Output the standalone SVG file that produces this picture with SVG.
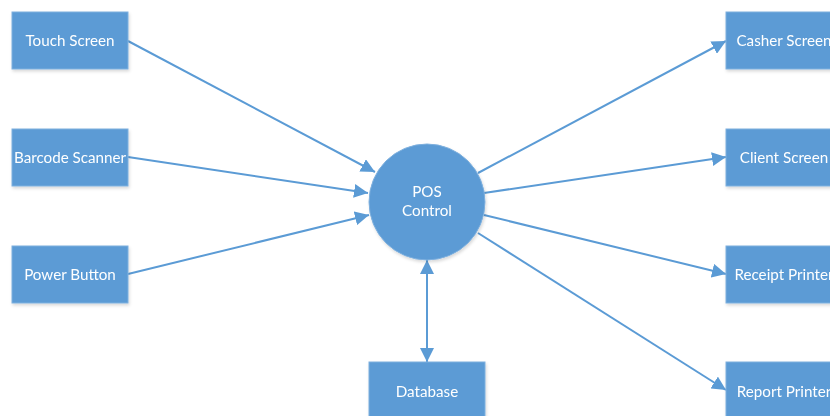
<svg xmlns="http://www.w3.org/2000/svg" width="830" height="416" viewBox="0 0 830 416">
<defs>
<style>
.box{fill:#5B9BD5;stroke:#7FB0DE;stroke-width:1}
.t{font-family:Lato,"Open Sans","Liberation Sans",sans-serif;font-size:15.2px;fill:#ffffff;text-anchor:middle}
.c{stroke:#5B9BD5;stroke-width:2;fill:none}
</style>
<marker id="ahb" viewBox="0 0 10 10" refX="10" refY="5" markerWidth="14" markerHeight="14" markerUnits="userSpaceOnUse" orient="auto-start-reverse">
<path d="M0,0 L10,5 L0,10 z" fill="#5B9BD5"/>
</marker>
<filter id="sh" x="-20%" y="-20%" width="140%" height="140%">
<feDropShadow dx="1" dy="2" stdDeviation="1.5" flood-color="#000" flood-opacity="0.15"/>
</filter>
</defs>
<rect width="830" height="416" fill="#ffffff"/>
<g id="connectors">
<line class="c" x1="128" y1="41" x2="375" y2="172" marker-end="url(#ahb)"/>
<line class="c" x1="128" y1="157" x2="368" y2="193" marker-end="url(#ahb)"/>
<line class="c" x1="128" y1="274" x2="369" y2="215" marker-end="url(#ahb)"/>
<line class="c" x1="478" y1="173" x2="726" y2="41" marker-end="url(#ahb)"/>
<line class="c" x1="484" y1="193" x2="726" y2="157" marker-end="url(#ahb)"/>
<line class="c" x1="484" y1="215" x2="726" y2="274" marker-end="url(#ahb)"/>
<line class="c" x1="478" y1="233" x2="726" y2="390" marker-end="url(#ahb)"/>
<line class="c" x1="427" y1="260" x2="427" y2="362" marker-start="url(#ahb)" marker-end="url(#ahb)"/>
</g>
<g id="touch-screen" filter="url(#sh)"><rect class="box" x="12" y="12" width="116" height="57"/><text class="t" x="70" y="46">Touch Screen</text></g>
<g id="barcode-scanner" filter="url(#sh)"><rect class="box" x="12" y="129" width="116" height="57"/><text class="t" x="70" y="163">Barcode Scanner</text></g>
<g id="power-button" filter="url(#sh)"><rect class="box" x="12" y="246" width="116" height="57"/><text class="t" x="70" y="280">Power Button</text></g>
<g id="pos-control" filter="url(#sh)"><circle class="box" cx="427" cy="202" r="58"/><text class="t" x="427" y="197">POS</text><text class="t" x="427" y="216">Control</text></g>
<g id="database" filter="url(#sh)"><rect class="box" x="369" y="362" width="116" height="60"/><text class="t" x="427" y="397">Database</text></g>
<g id="casher-screen" filter="url(#sh)"><rect class="box" x="726" y="12" width="116" height="57"/><text class="t" x="784" y="46">Casher Screen</text></g>
<g id="client-screen" filter="url(#sh)"><rect class="box" x="726" y="129" width="116" height="57"/><text class="t" x="784" y="163">Client Screen</text></g>
<g id="receipt-printer" filter="url(#sh)"><rect class="box" x="726" y="246" width="116" height="57"/><text class="t" x="784" y="280">Receipt Printer</text></g>
<g id="report-printer" filter="url(#sh)"><rect class="box" x="726" y="362" width="116" height="60"/><text class="t" x="784" y="397">Report Printer</text></g>
</svg>
